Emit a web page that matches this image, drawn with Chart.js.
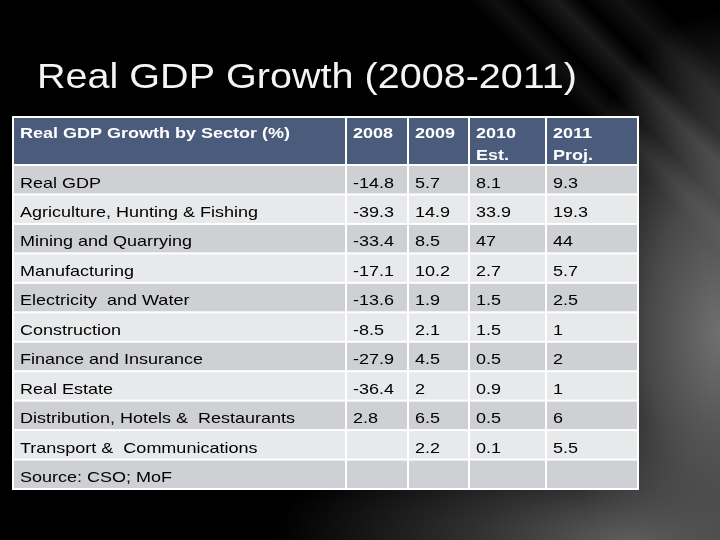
<!DOCTYPE html>
<html>
<head>
<meta charset="utf-8">
<script src="https://cdn.jsdelivr.net/npm/chart.js@4"></script>
<style>
  html, body { margin: 0; padding: 0; }
  body {
    width: 720px; height: 540px; overflow: hidden;
    background:
      linear-gradient(45deg, rgba(0,0,0,0) 80%, rgba(160,160,160,0.10) 82%, rgba(0,0,0,0) 84%, rgba(180,180,180,0.15) 87%, rgba(0,0,0,0) 89%, rgba(150,150,150,0.12) 92%, rgba(0,0,0,0) 95%),
      radial-gradient(ellipse 22% 60% at 100% 62%, rgba(112,112,112,1) 0%, rgba(85,85,85,0.85) 45%, rgba(0,0,0,0) 100%),
      radial-gradient(ellipse 50% 22% at 88% 100%, rgba(95,95,95,1) 0%, rgba(60,60,60,0.8) 45%, rgba(0,0,0,0) 100%),
      #000;
  }
  #wrap { position: relative; width: 720px; height: 540px; }
</style>
</head>
<body>
<div id="wrap"><canvas id="chart" width="720" height="540"></canvas></div>
<script>
const titleText = 'Real GDP Growth (2008-2011)'
const headerLabels = [
  ['Real GDP Growth by Sector (%)'],
  ['2008'],
  ['2009'],
  ['2010', 'Est.'],
  ['2011', 'Proj.']
]
const sectors = [
  'Real GDP',
  'Agriculture, Hunting & Fishing',
  'Mining and Quarrying',
  'Manufacturing',
  'Electricity  and Water',
  'Construction',
  'Finance and Insurance',
  'Real Estate',
  'Distribution, Hotels &  Restaurants',
  'Transport &  Communications',
  'Source: CSO; MoF'
]
const growth2008 = [-14.8, -39.3, -33.4, -17.1, -13.6, -8.5, -27.9, -36.4, 2.8, null, null]
const growth2009 = [5.7, 14.9, 8.5, 10.2, 1.9, 2.1, 4.5, 2, 6.5, 2.2, null]
const growth2010 = [8.1, 33.9, 47, 2.7, 1.5, 1.5, 0.5, 0.9, 0.5, 0.1, null]
const growth2011 = [9.3, 19.3, 44, 5.7, 2.5, 1, 2, 1, 6, 5.5, null]

const columns = [sectors, growth2008, growth2009, growth2010, growth2011]

// layout units (table grid), not data
const COL_UNITS = [333, 62, 61, 77, 92]
const HEADER_UNITS = 48
const ROW_UNITS = 29.45
const TEXT_STRETCH = 1.2

const colEdges = [0]
COL_UNITS.forEach(w => colEdges.push(colEdges[colEdges.length - 1] + w))
const rowEdges = [0, HEADER_UNITS]
sectors.forEach(() => rowEdges.push(rowEdges[rowEdges.length - 1] + ROW_UNITS))

function stretchedText(ctx, text, x, y, sx) {
  ctx.save()
  ctx.translate(x, y)
  ctx.scale(sx, 1)
  ctx.fillText(text, 0, 0)
  ctx.restore()
}

const tablePlugin = {
  id: 'tablePlugin',
  afterDraw(chart) {
    const { ctx, scales: { x, y } } = chart
    const px = v => x.getPixelForValue(v)
    const py = v => y.getPixelForValue(v)

    // title
    ctx.save()
    ctx.fillStyle = '#f4f4f4'
    ctx.font = '35px "Liberation Sans", Arial, sans-serif'
    ctx.textBaseline = 'alphabetic'
    stretchedText(ctx, titleText, 37, 88, 1.13)
    ctx.restore()

    // white grid background
    const left = px(0), right = px(colEdges[colEdges.length - 1])
    const top = py(0), bottom = py(rowEdges[rowEdges.length - 1])
    ctx.save()
    ctx.fillStyle = '#ffffff'
    ctx.fillRect(left - 1, top - 1, right - left + 2, bottom - top + 2)

    for (let r = 0; r < rowEdges.length - 1; r++) {
      const y0 = py(rowEdges[r]), y1 = py(rowEdges[r + 1])
      let fill
      if (r === 0) fill = '#4a5b7c'
      else fill = (r % 2 === 1) ? '#cfd0d4' : '#e8e9eb'
      for (let c = 0; c < colEdges.length - 1; c++) {
        const x0 = px(colEdges[c]), x1 = px(colEdges[c + 1])
        ctx.fillStyle = fill
        ctx.fillRect(x0 + 1, y0 + 1, x1 - x0 - 2, y1 - y0 - 2)

        ctx.textBaseline = 'alphabetic'
        if (r === 0) {
          ctx.fillStyle = '#ffffff'
          ctx.font = 'bold 15px "Liberation Sans", Arial, sans-serif'
          headerLabels[c].forEach((line, i) => {
            stretchedText(ctx, line, x0 + 7, y0 + 20.5 + i * 22.5, TEXT_STRETCH)
          })
        } else {
          const v = columns[c][r - 1]
          if (v === null || v === undefined) continue
          ctx.fillStyle = '#000000'
          ctx.font = '15px "Liberation Sans", Arial, sans-serif'
          stretchedText(ctx, String(v), x0 + 7, y0 + 22.5, TEXT_STRETCH)
        }
      }
    }
    ctx.restore()
  }
}

new Chart(document.getElementById('chart'), {
  type: 'scatter',
  data: { datasets: [] },
  options: {
    responsive: false,
    animation: false,
    layout: { padding: { left: 13, top: 117, right: 82, bottom: 51 } },
    scales: {
      x: { type: 'linear', min: 0, max: colEdges[colEdges.length - 1], display: false },
      y: { type: 'linear', min: 0, max: rowEdges[rowEdges.length - 1], reverse: true, display: false }
    },
    plugins: {
      legend: { display: false },
      tooltip: { enabled: false },
      title: { display: false }
    }
  },
  plugins: [tablePlugin]
})
</script>
</body>
</html>
